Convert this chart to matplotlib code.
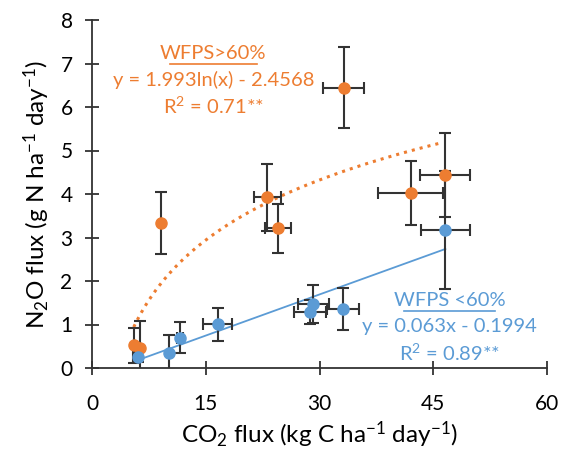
import numpy as np
import matplotlib
matplotlib.use('Agg')
import matplotlib.pyplot as plt

plt.rcParams['font.family'] = ['Lato', 'DejaVu Sans']
plt.rcParams['mathtext.fontset'] = 'custom'
plt.rcParams['mathtext.rm'] = 'Lato'
plt.rcParams['mathtext.it'] = 'Lato:italic'
plt.rcParams['mathtext.bf'] = 'Lato:bold'

# WFPS > 60% (orange)
hi_x = [5.5, 6.3, 9.1, 23.1, 24.5, 33.2, 42.0, 46.6]
hi_y = [0.52, 0.45, 3.33, 3.92, 3.21, 6.44, 4.02, 4.44]
hi_xerr = [0.0, 0.0, 0.0, 1.8, 1.7, 2.7, 4.3, 3.3]
hi_yerr = [0.40, 0.62, 0.72, 0.77, 0.57, 0.93, 0.74, 0.96]

# WFPS < 60% (blue)
lo_x = [6.0, 10.2, 11.6, 16.6, 28.8, 29.2, 33.1, 46.6]
lo_y = [0.25, 0.35, 0.70, 1.01, 1.29, 1.47, 1.36, 3.17]
lo_xerr = [0.6, 0.0, 0.4, 1.9, 2.1, 2.1, 2.1, 3.2]
lo_yerr = [0.12, 0.40, 0.36, 0.38, 0.28, 0.44, 0.48, 1.35]

xticks = [0, 15, 30, 45, 60]
yticks = [0, 1, 2, 3, 4, 5, 6, 7, 8]

orange = '#ED7D31'
blue = '#5B9BD5'

fig = plt.figure(figsize=(5.68, 4.54), dpi=100)
ax = fig.add_axes([92 / 568, 86 / 454, 455 / 568, 348 / 454])

for xs, ys, xe, ye, c in [(hi_x, hi_y, hi_xerr, hi_yerr, orange),
                          (lo_x, lo_y, lo_xerr, lo_yerr, blue)]:
    ax.errorbar(xs, ys, xerr=xe, yerr=ye, fmt='o', color=c, ms=8,
                ecolor='#333333', elinewidth=1.5, capsize=4, capthick=1.5, zorder=3)

# trend lines
xl = np.linspace(5.5, 46.0, 100)
ax.plot(xl, 1.993 * np.log(xl) - 2.4568, color=orange, ls=':', lw=2.2, zorder=2)
xb = np.linspace(5.5, 46.6, 50)
ax.plot(xb, 0.063 * xb - 0.1994, color=blue, lw=1.3, zorder=2)

def label(x, y, lines, c):
    t = ax.text(x, y, lines[0], color=c, fontsize=14.5, ha='center', va='center')
    fig.canvas.draw()
    bb = t.get_window_extent().transformed(ax.transData.inverted())
    ax.plot([bb.x0, bb.x1], [bb.y0 - 0.03, bb.y0 - 0.03], color=c, lw=1.2, clip_on=False)
    for i, s in enumerate(lines[1:]):
        ax.text(x, y - 0.6 * (i + 1), s, color=c, fontsize=14.5, ha='center', va='center')

label(16.0, 7.22, ['WFPS>60%', 'y = 1.993ln(x) - 2.4568', r'R$^2$ = 0.71**'], orange)
label(47.2, 1.55, ['WFPS <60%', 'y = 0.063x - 0.1994', r'R$^2$ = 0.89**'], blue)

ax.set_xlim(0, 60)
ax.set_ylim(0, 8)
ax.set_xticks(xticks)
ax.set_yticks(yticks)
ax.spines['top'].set_visible(False)
ax.spines['right'].set_visible(False)
ax.spines['left'].set_color('#333333')
ax.spines['bottom'].set_color('#333333')
ax.spines['left'].set_linewidth(1.3)
ax.spines['bottom'].set_linewidth(1.3)
ax.tick_params(direction='inout', length=10, width=1.3, color='#333333', labelsize=15)
ax.tick_params(axis='x', pad=14)
ax.tick_params(axis='y', pad=9)
ax.set_xlabel(r'CO$_2$ flux (kg C ha$^{-1}$ day$^{-1}$)', fontsize=17.5, labelpad=4)
ax.set_ylabel(r'N$_2$O flux (g N ha$^{-1}$ day$^{-1}$)', fontsize=17.5, labelpad=6)

fig.savefig('out.png', dpi=100)
